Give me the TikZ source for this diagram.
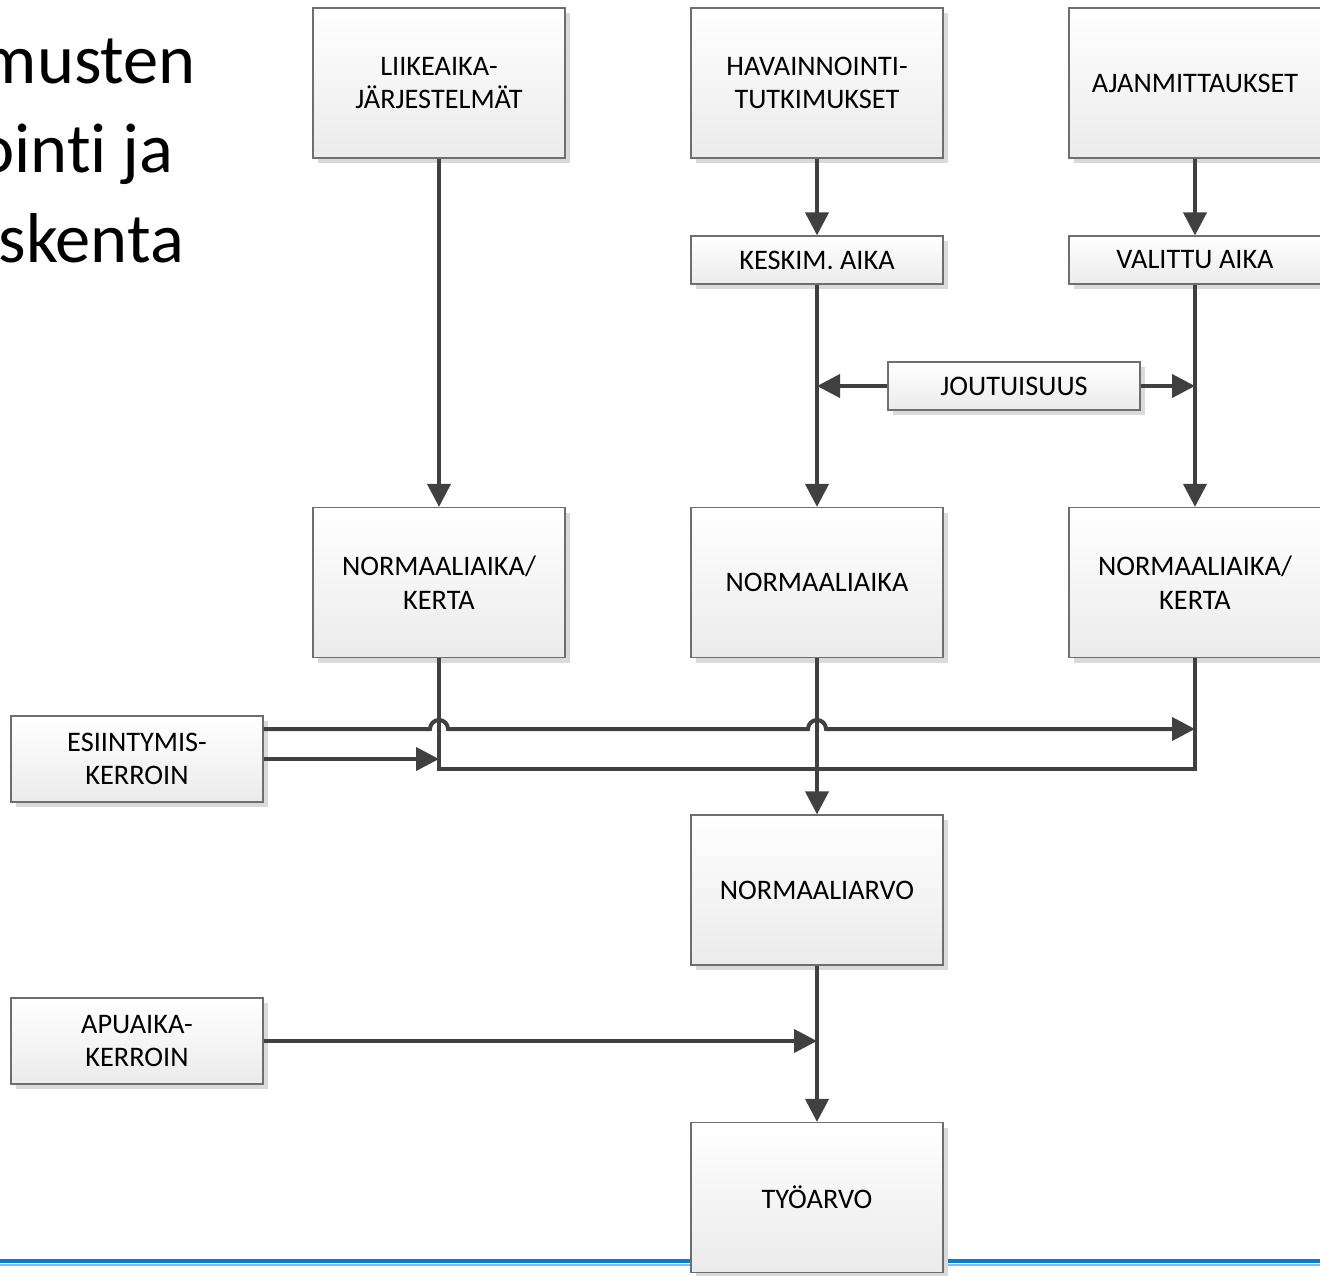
\documentclass[tikz,border=0pt]{standalone}
\usepackage{fontspec}
\setmainfont{Carlito}[Ligatures={NoCommon}]
\usetikzlibrary{arrows.meta,shadows,calc}
\definecolor{boxline}{HTML}{6E6E6E}
\definecolor{boxbot}{HTML}{EBEBEB}
\definecolor{shadowc}{HTML}{DADADA}
\definecolor{conn}{HTML}{404040}
\definecolor{bluedark}{HTML}{0A7CCB}
\definecolor{bluelight}{HTML}{7DBDE8}
\tikzset{
  box/.style={draw=boxline, line width=1.2pt, top color=white, bottom color=boxbot,
    minimum width=252pt, inner sep=0pt, align=center,
    font=\fontsize{28.3}{33.5}\selectfont,
    drop shadow={shadow xshift=5pt, shadow yshift=-5pt, fill=shadowc, opacity=1}},
  tallbox/.style={box, minimum height=150pt},
  flatbox/.style={box, minimum height=48pt},
  midbox/.style={box, minimum height=86pt},
  line/.style={draw=conn, line width=4pt},
  arr/.style={line, -{Triangle[length=23pt,width=23pt]}},
  titletext/.style={inner sep=0pt, font=\fontsize{70.5}{89}\selectfont}
}
\begin{document}
\begin{tikzpicture}[x=1pt,y=-1pt]
\useasboundingbox (0,0) rectangle (1320,1275);
% bottom blue rule
\coordinate (bl) at (0,1261);
\coordinate (br) at (1320,1261);
\draw[bluedark, line width=4.5pt] (bl) -- (br);
\draw[bluelight, line width=2pt] ($(bl)+(0,3.5)$) -- ($(br)+(0,3.5)$);
% title fragments
\node[titletext, anchor=base east] (t1) at (196,83) {musten};
\node[titletext, anchor=base east] (t2) at (174,172.5) {ointi ja};
\node[titletext, anchor=base east] (t3) at (184,262) {skenta};
% boxes
\node[tallbox] (liike) at (439,83) {LIIKEAIKA-\\JÄRJESTELMÄT};
\node[tallbox] (hav) at (817,83) {HAVAINNOINTI-\\TUTKIMUKSET};
\node[tallbox] (ajan) at (1195,83) {AJANMITTAUKSET};
\node[flatbox] (kesk) at (817,260) {KESKIM. AIKA};
\node[flatbox] (vali) at (1195,260) {VALITTU AIKA};
\node[flatbox] (jout) at (1014,386) {JOUTUISUUS};
\node[tallbox] (na1) at (439,582.5) {NORMAALIAIKA/\\KERTA};
\node[tallbox] (na2) at (817,582.5) {NORMAALIAIKA};
\node[tallbox] (na3) at (1195,582.5) {NORMAALIAIKA/\\KERTA};
\node[midbox] (esi) at (137,759) {ESIINTYMIS-\\KERROIN};
\node[tallbox] (narvo) at (817,890) {NORMAALIARVO};
\node[midbox] (apu) at (137,1041) {APUAIKA-\\KERROIN};
\node[tallbox] (tyo) at (817,1197.5) {TYÖARVO};
% connectors
\draw[arr] (liike.south) -- (na1.north);
\draw[arr] (hav.south) -- (kesk.north);
\draw[arr] (ajan.south) -- (vali.north);
\draw[arr] (kesk.south) -- (na2.north);
\draw[arr] (vali.south) -- (na3.north);
\draw[arr] (jout.west) -- (jout.west -| kesk.south);
\draw[arr] (jout.east) -- (jout.east -| vali.south);
\coordinate (jl) at (439,769);
\coordinate (jr) at (1195,769);
\draw[line, line join=miter] (na1.south) -- (jl) -- (jr) -- (na3.south);
\draw[arr] (na2.south) -- (narvo.north);
\coordinate (e1) at ($(esi.east)+(0,-30)$);
\coordinate (h1) at (e1 -| na1.south);
\coordinate (h2) at (e1 -| na2.south);
\draw[arr] (e1) -- ($(h1)+(-9,0)$) arc[start angle=180, end angle=360, radius=9]
  -- ($(h2)+(-9,0)$) arc[start angle=180, end angle=360, radius=9]
  -- (e1 -| na3.south);
\draw[arr] (esi.east) -- (esi.east -| na1.south);
\draw[arr] (narvo.south) -- (tyo.north);
\draw[arr] (apu.east) -- (apu.east -| narvo.south);
\end{tikzpicture}
\end{document}
